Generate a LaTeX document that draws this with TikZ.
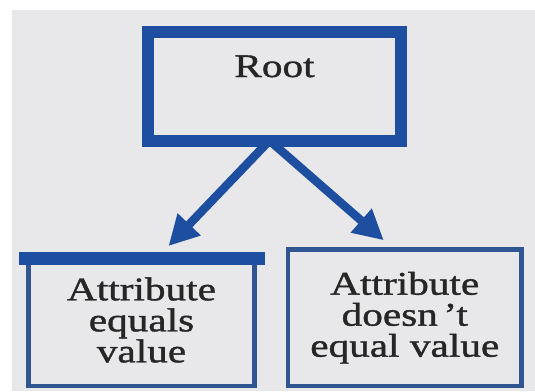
\documentclass[tikz,border=0pt]{standalone}
\usepackage{fontspec}
\usepackage{tikz}
\usetikzlibrary{arrows.meta}
\newfontfamily\boxfont[FakeStretch=1.25,FakeBold=1.2]{Liberation Serif}
\definecolor{bggray}{RGB}{232,232,234}
\definecolor{boldblue}{RGB}{30,78,160}
\definecolor{thinblue}{RGB}{48,86,146}

\begin{document}
\begin{tikzpicture}[x=1pt,y=-1pt,
  txt/.style={font=\boxfont\fontsize{33}{31}\selectfont, text=black!85, align=center},
  rootbox/.style={draw=boldblue, line width=12pt, txt, inner sep=0pt,
    minimum width=253.5pt, minimum height=109pt, text height=45.5pt, text depth=63.5pt},
  leafbox/.style={draw=thinblue, line width=4.5pt, txt, inner sep=0pt},
  link/.style={draw=boldblue, line width=8.5pt, -{Triangle[length=30pt,width=30pt]}}]
%\draw [color=gray, very thin] (0,0) grid[step=50pt] (535,391);
\useasboundingbox (0,0) rectangle (535,391);
\fill [white] (0,0) rectangle (535,391);
\fill [bggray] (12,10) rectangle (535,391);
\node [rootbox] (root) at (274.5,86) {Root};
\node [leafbox, minimum width=226pt, minimum height=131.5pt] (attreq) at (141.5,320)
  {Attribute\\equals\\value};
\node [leafbox, minimum width=233.5pt, minimum height=136.5pt] (attneq) at (404.75,317.75)
  {Attribute\\doesn\,’t\\equal value};
\draw [boldblue, line width=13pt, shorten <=-7pt, shorten >=-8pt]
  ([yshift=-6.5pt]attreq.north west) -- ([yshift=-6.5pt]attreq.north east);
\draw [link] ([xshift=-5pt,yshift=6pt]root.south) -- ([xshift=27pt,yshift=6pt]attreq.north);
\draw [link] ([xshift=-5pt,yshift=6pt]root.south) -- ([xshift=-21pt,yshift=7pt]attneq.north);
\end{tikzpicture}
\end{document}
